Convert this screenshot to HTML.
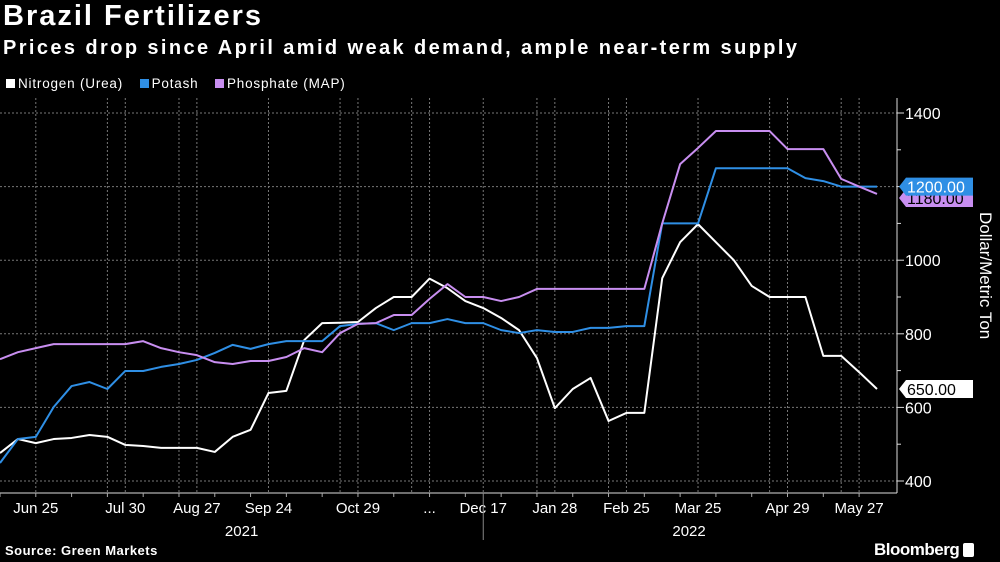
<!DOCTYPE html>
<html><head><meta charset="utf-8">
<style>
body{margin:0;background:#000;width:1000px;height:562px;overflow:hidden;font-family:"Liberation Sans",sans-serif;color:#fff;position:relative}
.t{position:absolute;white-space:nowrap}
</style></head><body>
<div class="t" style="left:3px;top:0px;font-size:29px;font-weight:bold;letter-spacing:2px">Brazil Fertilizers</div>
<div class="t" style="left:3px;top:37px;font-size:20px;font-weight:bold;letter-spacing:2.4px">Prices drop since April amid weak demand, ample near-term supply</div>
<div class="t" style="left:6px;top:76px;font-size:13.5px;letter-spacing:0.8px">
<span><span style="display:inline-block;width:9px;height:9px;background:#fff;margin-right:3px"></span>Nitrogen (Urea)</span>
<span style="margin-left:12px"><span style="display:inline-block;width:9px;height:9px;background:#2f8fe5;margin-right:3px"></span>Potash</span>
<span style="margin-left:12px"><span style="display:inline-block;width:9px;height:9px;background:#c88ef0;margin-right:3px"></span>Phosphate (MAP)</span>
</div>
<svg id="chart" width="1000" height="562" style="position:absolute;left:0;top:0" font-family="Liberation Sans, sans-serif"></svg>
<div class="t" style="left:5px;top:543px;font-size:13px;font-weight:bold;letter-spacing:0.5px">Source: Green Markets</div>
<div class="t" style="left:874px;top:540px;font-size:17px;font-weight:bold;letter-spacing:-0.5px">Bloomberg <span style="display:inline-block;width:11px;height:14px;background:#fff;border-radius:2px;vertical-align:-2px"></span></div>
<script>
const nitrogen=[476,514,503,514,517,525,520,498,495,490,490,490,479,520,539,639,645,783,829,830,832,870,900,900,950,924,889,870,843,810,734,598,650,680,563,585,585,951,1049,1098,1049,1000,930,900,900,900,740,740,696,650];
const potash=[449,514,520,601,658,669,650,699,699,710,718,729,748,770,759,772,780,780,780,821,827,829,810,829,829,840,829,829,810,802,810,805,805,816,816,821,821,1100,1100,1100,1250,1250,1250,1250,1250,1223,1215,1200,1200,1200];
const phosphate=[731,750,761,772,772,772,772,772,780,761,750,742,723,718,726,726,737,761,750,802,827,829,851,851,895,935,900,900,889,900,922,922,922,922,922,922,922,1100,1261,1305,1351,1351,1351,1351,1302,1302,1302,1221,1200,1180];
const xTickLabels=["Jun 25","Jul 30","Aug 27","Sep 24","Oct 29","...","Dec 17","Jan 28","Feb 25","Mar 25","Apr 29","May 27"];
const xTickIdx=[2,7,11,15,20,24,27,31,35,39,44,48];
const gridIdx=[2,6,7,10,11,15,19,20,23,24,27,30,31,34,35,39,43,44,47,48];
const yTicks=[400,600,800,1000,1200,1400];
const yearLabels=["2021","2022"];
const yearIdx=[13.5,38.5];
const ns="http://www.w3.org/2000/svg";
const svg=document.getElementById('chart');
const N=nitrogen.length;
const X=i=>i*877/(N-1);
const Y=v=>481-(v-400)*0.368;
function mk(tag,attrs,parent){const e=document.createElementNS(ns,tag);for(const k in attrs)e.setAttribute(k,attrs[k]);(parent||svg).appendChild(e);return e;}
yTicks.forEach(v=>{
 const g=mk('line',{x1:0,x2:897,y1:Y(v),y2:Y(v),stroke:'#777','stroke-dasharray':'2,2','stroke-width':1});
 
 
 const tk=mk('line',{x1:897,x2:904,y1:Y(v),y2:Y(v),stroke:'#ddd'});
 
 
 const t=mk('text',{x:905,y:Y(v)+6,fill:'#fff','font-size':16});
 t.textContent=v;
 
 
});
[500,700,900,1100,1300].forEach(v=>{
 const tk=mk('line',{x1:897,x2:901,y1:Y(v),y2:Y(v),stroke:'#ddd'});
 
 
});
gridIdx.forEach(i=>{
 const g=mk('line',{x1:X(i),x2:X(i),y1:98,y2:493,stroke:'#777','stroke-dasharray':'2,2','stroke-width':1});
 
 
});
const ax=mk('line',{x1:897,x2:897,y1:98,y2:493,stroke:'#ddd'});


const bx=mk('line',{x1:0,x2:897,y1:493,y2:493,stroke:'#ddd'});


for(let i=0;i<N;i+=2){const tk=mk('line',{x1:X(i),x2:X(i),y1:493,y2:497,stroke:'#aaa'});
 
 }
xTickLabels.forEach((l,k)=>{
 const t=mk('text',{x:X(xTickIdx[k]),y:513,fill:'#fff','font-size':15,'text-anchor':'middle'});
 t.textContent=l;
 
 
});
yearLabels.forEach((l,k)=>{
 const t=mk('text',{x:X(yearIdx[k]),y:536,fill:'#fff','font-size':15,'text-anchor':'middle'});
 t.textContent=l;
 
 
});
const sep=mk('line',{x1:X(27),x2:X(27),y1:493,y2:540,stroke:'#888'});


const yt=mk('text',{x:0,y:0,fill:'#fff','font-size':17,transform:'translate(980,212) rotate(90)'});
yt.textContent='Dollar/Metric Ton';


function line(data,color,name){
 const p=mk('polyline',{points:data.map((v,i)=>X(i)+','+Y(v)).join(' '),fill:'none',stroke:color,'stroke-width':2,'stroke-linejoin':'round'});
 
 
}
line(nitrogen,'#ffffff','series-nitrogen');
line(potash,'#2f8fe5','series-potash');
line(phosphate,'#c88ef0','series-phosphate');
function tag(v,bg,fg,name,dy){
 const y=Y(v)+dy;
 const g=mk('g',{});
 
 
 mk('path',{d:`M899 ${y} L906 ${y-9} L973 ${y-9} L973 ${y+9} L906 ${y+9} Z`,fill:bg},g);
 const t=mk('text',{x:907,y:y+6,fill:fg,'font-size':16},g);
 t.textContent=v.toFixed(2);
}
tag(phosphate[N-1],'#c88ef0','#000','phosphate-value-tag',4);
tag(potash[N-1],'#2f8fe5','#fff','potash-value-tag',0);
tag(nitrogen[N-1],'#ffffff','#000','nitrogen-value-tag',0);
</script>
</body></html>
